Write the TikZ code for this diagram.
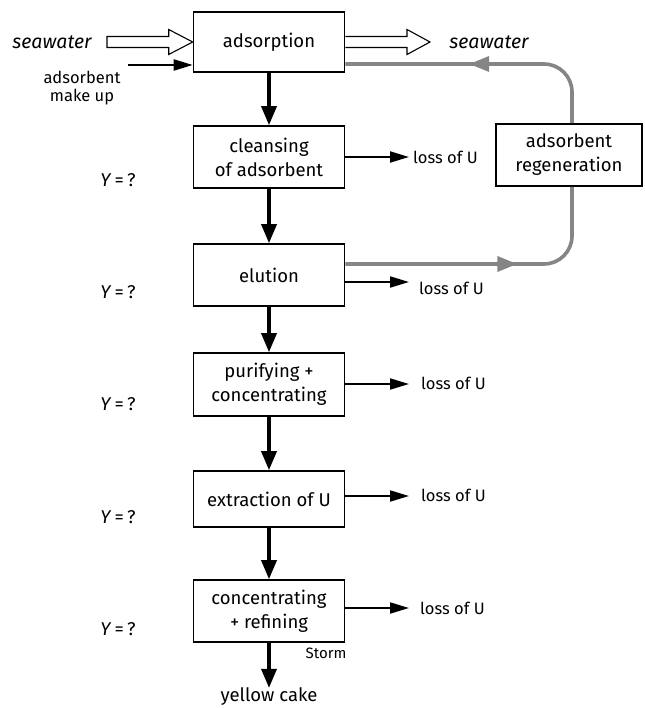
\documentclass[tikz,border=0pt]{standalone}
\usepackage{fontspec}
\setmainfont{Fira Sans}
\usetikzlibrary{arrows.meta,calc,decorations.markings}
\begin{document}
\begin{tikzpicture}[x=1pt,y=-1pt,
  box/.style={draw,line width=1.6pt,minimum width=151pt,inner sep=0pt,align=center,font=\fontsize{18.5}{24}\selectfont},
  txt/.style={inner sep=0pt,align=center,font=\fontsize{16.5}{18}\selectfont},
  flow/.style={line width=3.5pt,-{Triangle[length=19pt,width=15pt]}},
  loss/.style={line width=2pt,-{Triangle[length=19pt,width=11pt]}},
  hollow/.style={draw,line width=1.1pt,fill=white,line join=miter},
  greyline/.style={draw=black!48,line width=3.6pt,rounded corners=28pt},
]
\useasboundingbox (0,0) rectangle (644,708);
% boxes
\node[box,minimum height=60pt] (ads) at (269,42) {adsorption};
\node[box,minimum height=62pt] (cle) at (269,157) {cleansing\\of adsorbent};
\node[box,minimum height=62pt] (elu) at (269,275) {elution};
\node[box,minimum height=63pt] (pur) at (269,384.5) {purifying +\\concentrating};
\node[box,minimum height=56pt] (ext) at (269,499) {extraction of U};
\node[box,minimum height=62pt] (con) at (269,611) {concentrating\\+ refining};
\node[box,minimum height=62pt,minimum width=146pt] (reg) at (569,155) {adsorbent\\regeneration};
% texts
\node[txt,font=\fontsize{19.5}{22}\selectfont\itshape] (swl) at (52,42) {seawater};
\node[txt,font=\fontsize{19.5}{22}\selectfont\itshape] (swr) at (489,42) {seawater};
\node[txt] (mk) at (82,88) {adsorbent\\make up};
\node[txt,anchor=west] (l1) at (413,157) {loss of U};
\node[txt,anchor=west] (l2) at (419,288) {loss of U};
\node[txt,anchor=west] (l3) at (421,383) {loss of U};
\node[txt,anchor=west] (l4) at (421,495) {loss of U};
\node[txt,anchor=west] (l5) at (420,608) {loss of U};
\newcommand{\ylab}{\textit{Y}\hspace{0.18em}=\hspace{0.18em}?}
\tikzset{ylabel/.style={txt,font=\fontsize{18.5}{20}\selectfont}}
\node[ylabel] (y1) at (118,180) {\ylab};
\node[ylabel] (y2) at (118,292) {\ylab};
\node[ylabel] (y3) at (118,404) {\ylab};
\node[ylabel] (y4) at (118,517) {\ylab};
\node[ylabel] (y5) at (118,629) {\ylab};
\node[txt,font=\fontsize{15}{17}\selectfont] (storm) at (326,653) {Storm};
\node[txt,font=\fontsize{18.5}{22}\selectfont] (yc) at (269,697) {yellow cake};
% coordinates
\coordinate (swin) at (107,42);
\coordinate (swout) at (430,42);
\coordinate (mkst) at (128,65);
\coordinate (gt) at (572,64);
\coordinate (gb) at (572,264);
\coordinate (e1) at (409,157);
\coordinate (e2) at (409,282);
\coordinate (e3) at (409,384);
\coordinate (e4) at (409,496);
\coordinate (e5) at (409,608);
% hollow arrows
\path[hollow] ($(swin)+(0,-5.5)$) -- ($(ads.west)+(-24,-5.5)$) -- ($(ads.west)+(-24,-12.5)$) -- (ads.west)
  -- ($(ads.west)+(-24,12.5)$) -- ($(ads.west)+(-24,5.5)$) -- ($(swin)+(0,5.5)$) -- cycle;
\path[hollow] ($(ads.east)+(0,-5.5)$) -- ($(swout)+(-23,-5.5)$) -- ($(swout)+(-23,-12.5)$) -- (swout)
  -- ($(swout)+(-23,12.5)$) -- ($(swout)+(-23,5.5)$) -- ($(ads.east)+(0,5.5)$);
% make up
\draw[loss] (mkst) -- (mkst -| ads.west);
% main flow
\draw[flow] (ads) -- (cle);
\draw[flow] (cle) -- (elu);
\draw[flow] (elu) -- (pur);
\draw[flow] (pur) -- (ext);
\draw[flow] (ext) -- (con);
\draw[flow] (con) -- (yc);
% losses
\draw[loss] (e1 -| cle.east) -- (e1);
\draw[loss] (e2 -| elu.east) -- (e2);
\draw[loss] (e3 -| pur.east) -- (e3);
\draw[loss] (e4 -| ext.east) -- (e4);
\draw[loss] (e5 -| con.east) -- (e5);
% grey recycle
\path[greyline,postaction={decorate},decoration={markings,mark=at position 150pt with {\arrow[black!48]{Triangle[length=20pt,width=15pt]}}}]
  (reg.north -| gt) -- (gt) -- (gt -| ads.east);
\path[greyline,postaction={decorate},decoration={markings,mark=at position 172pt with {\arrow[black!48]{Triangle[length=20pt,width=15pt]}}}]
  (gb -| elu.east) -- (gb) -- (reg.south -| gb);
\end{tikzpicture}
\end{document}
